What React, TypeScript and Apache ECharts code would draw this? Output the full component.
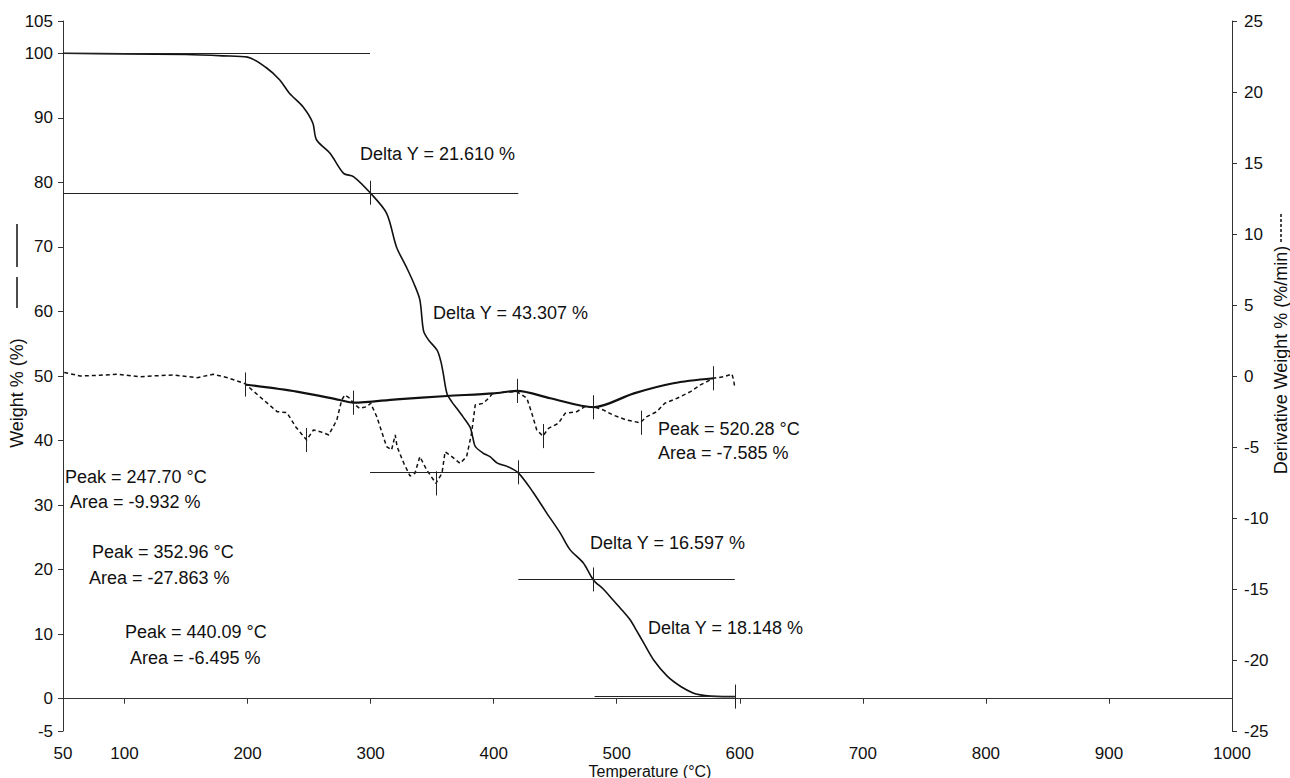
import React, { useEffect, useRef } from "react";
import * as echarts from "echarts";

// ---- axis ticks ----
const temperatureTicks = [50, 100, 200, 300, 400, 500, 600, 700, 800, 900, 1000];
const weightAxisTicks = [-5, 0, 10, 20, 30, 40, 50, 60, 70, 80, 90, 100, 105];

// ---- weight % curve (left axis) ----
const weightT = [50, 100, 150, 180, 200, 215, 226, 234, 245, 253, 256, 267, 278, 286, 300, 313, 321, 329, 335, 340, 343, 347, 354, 357, 359, 362, 366, 370, 375, 381, 383, 385, 391, 397, 403, 411, 420, 432, 443, 454, 462, 473, 481, 489, 497, 504, 511, 516, 522, 530, 541, 552, 562, 568, 576, 586, 596];
const weightPct = [100.0, 99.9, 99.8, 99.6, 99.4, 97.8, 95.9, 93.8, 91.7, 89.2, 86.6, 84.5, 81.4, 80.9, 78.3, 75.2, 70.0, 66.9, 64.4, 61.8, 57.0, 55.6, 54.0, 52.3, 50.4, 47.3, 46.0, 45.0, 43.7, 42.0, 40.5, 39.1, 38.1, 37.5, 36.5, 36.0, 35.0, 32.0, 28.8, 25.7, 23.1, 21.0, 18.4, 17.0, 15.3, 13.8, 12.2, 10.6, 8.6, 6.0, 3.5, 1.9, 0.9, 0.6, 0.4, 0.33, 0.33];

// ---- derivative weight curve (right axis) ----
const derivT = [51, 64, 80, 94, 113, 126, 140, 159, 172, 183, 190, 198, 210, 224, 232, 239, 248, 253.5, 259, 266, 272.5, 276.5, 279, 283, 286, 291, 297, 300, 305, 313, 317, 320, 321.5, 327, 332, 336, 340, 345.6, 353, 358, 360.5, 366, 372.7, 378, 382, 385, 391.6, 397, 399, 408, 418.8, 427, 431, 435, 440, 444.5, 452.6, 458, 467.6, 474, 481, 489, 497, 508, 519, 524.5, 532.6, 539, 549, 560, 568, 578.6, 587, 593.6, 595, 596];
const derivVal = [0.25, 0.0, 0.05, 0.12, -0.05, 0.02, 0.07, -0.12, 0.12, -0.1, -0.3, -0.55, -1.46, -2.51, -2.58, -3.57, -4.51, -3.8, -3.92, -4.15, -3.1, -1.69, -1.34, -1.57, -1.92, -2.28, -2.16, -1.92, -2.87, -4.98, -5.21, -4.15, -4.98, -6.15, -7.04, -6.85, -5.68, -6.62, -7.56, -6.85, -5.33, -5.68, -6.15, -5.68, -4.04, -2.04, -1.92, -1.46, -1.22, -1.15, -1.1, -1.57, -2.63, -3.8, -4.23, -3.69, -3.33, -2.63, -2.51, -2.16, -2.16, -2.39, -2.75, -3.1, -3.29, -2.86, -2.51, -1.92, -1.57, -1.1, -0.63, -0.16, -0.05, 0.14, -0.28, -0.87];

// ---- integration baseline under the derivative peaks ----
const baselineT = [198, 240, 275, 286, 321, 362, 400, 419, 446, 481, 514, 546, 578.6];
const baselineVal = [-0.6, -1.1, -1.69, -1.88, -1.64, -1.41, -1.22, -1.05, -1.57, -2.2, -1.22, -0.51, -0.16];

// ---- step (Delta Y) levels ----
const stepLevel = [100, 78.39, 35.08, 18.48, 0.33];
const stepFrom = [50, 50, 299.5, 420, 482];
const stepTo = [299.5, 420, 482, 596, 596];
const stepMarkT = [300, 420, 481, 596];
const stepMarkW = [78.39, 35.08, 18.48, 0.33];

// ---- baseline limits and peaks ----
const limitT = [198, 286, 419, 481, 578.6];
const limitD = [-0.6, -1.88, -1.05, -2.2, -0.16];
const peakT = [247.7, 352.96, 440.09, 520.28];
const peakD = [-4.51, -7.56, -4.23, -3.29];

// ---- annotation texts ----
const annotationTexts = [
  "Delta Y = 21.610 %",
  "Delta Y = 43.307 %",
  "Delta Y = 16.597 %",
  "Delta Y = 18.148 %",
  "Peak = 247.70 °C",
  "Area = -9.932 %",
  "Peak = 352.96 °C",
  "Area = -27.863 %",
  "Peak = 440.09 °C",
  "Area = -6.495 %",
  "Peak = 520.28 °C",
  "Area = -7.585 %",
];
// layout (pixels) for annotation texts: left x, middle y
const annotationLayout = [
  [360, 154],
  [433, 313],
  [590, 543],
  [648, 628],
  [65, 477],
  [70, 502],
  [92, 552],
  [89, 578],
  [125, 632],
  [130, 658],
  [658, 429],
  [658, 453],
];

const FONT = '"Liberation Sans", Arial, Helvetica, sans-serif';
const INK = "#111";

export default function App() {
  const ref = useRef<HTMLDivElement>(null);

  useEffect(() => {
    if (!ref.current) return;
    const chart = echarts.init(ref.current, undefined, { renderer: "svg" });

    const wTickHalf = 1.86; // ~12px on weight axis
    const dTickHalf = 0.85; // ~12px on derivative axis

    const weightMarks: any[] = [];
    stepLevel.forEach((lv, i) => {
      weightMarks.push([{ coord: [stepFrom[i], lv] }, { coord: [stepTo[i], lv] }]);
    });
    stepMarkT.forEach((t, i) => {
      weightMarks.push([
        { coord: [t, stepMarkW[i] - wTickHalf] },
        { coord: [t, stepMarkW[i] + wTickHalf] },
      ]);
    });

    const derivMarks: any[] = [];
    limitT.forEach((t, i) => {
      derivMarks.push([
        { coord: [t, limitD[i] - dTickHalf] },
        { coord: [t, limitD[i] + dTickHalf] },
      ]);
    });
    peakT.forEach((t, i) => {
      derivMarks.push([
        { coord: [t, peakD[i] - dTickHalf] },
        { coord: [t, peakD[i] + dTickHalf] },
      ]);
    });

    const axisLineStyle = { color: "#333", width: 1 };
    const labelStyle = { color: INK, fontSize: 17, fontFamily: FONT };

    const graphics: any[] = [
      {
        type: "text",
        x: 17,
        y: 393,
        rotation: Math.PI / 2,
        style: { text: "Weight % (%)", font: `18px ${FONT}`, fill: INK, align: "center", verticalAlign: "middle" },
      },
      { type: "line", shape: { x1: 17, y1: 277, x2: 17, y2: 308 }, style: { stroke: INK, lineWidth: 1.5 } },
      { type: "line", shape: { x1: 17, y1: 224, x2: 17, y2: 267 }, style: { stroke: INK, lineWidth: 1.5 } },
      {
        type: "text",
        x: 1281,
        y: 360,
        rotation: Math.PI / 2,
        style: { text: "Derivative Weight % (%/min)", font: `18px ${FONT}`, fill: INK, align: "center", verticalAlign: "middle" },
      },
      { type: "line", shape: { x1: 1281, y1: 214, x2: 1281, y2: 242 }, style: { stroke: INK, lineWidth: 1.5, lineDash: [3, 2] } },
      {
        type: "text",
        x: 650,
        y: 771,
        style: { text: "Temperature (°C)", font: `16px ${FONT}`, fill: INK, align: "center", verticalAlign: "middle" },
      },
    ];
    annotationTexts.forEach((t, i) => {
      graphics.push({
        type: "text",
        x: annotationLayout[i][0],
        y: annotationLayout[i][1],
        style: { text: t, font: `18px ${FONT}`, fill: INK, align: "left", verticalAlign: "middle" },
      });
    });

    chart.setOption({
      animation: false,
      backgroundColor: "#fff",
      grid: { left: 63, right: 58, top: 21, bottom: 47, containLabel: false, outerBoundsMode: "none" },
      xAxis: {
        type: "value",
        min: 50,
        max: 1000,
        axisLine: { show: true, lineStyle: axisLineStyle },
        axisTick: { show: true, customValues: temperatureTicks, length: 5, lineStyle: axisLineStyle },
        axisLabel: {
          customValues: temperatureTicks,
          margin: 14,
          formatter: (v: number) => String(v),
          ...labelStyle,
        },
        splitLine: { show: false },
      },
      yAxis: [
        {
          type: "value",
          min: -5,
          max: 105,
          position: "left",
          axisLine: { show: true, lineStyle: axisLineStyle },
          axisTick: { show: true, customValues: weightAxisTicks, length: 5, lineStyle: axisLineStyle },
          axisLabel: { customValues: weightAxisTicks, margin: 10, ...labelStyle },
          splitLine: { show: false },
        },
        {
          type: "value",
          min: -25,
          max: 25,
          interval: 5,
          position: "right",
          axisLine: { show: true, lineStyle: axisLineStyle },
          axisTick: { show: true, length: 5, lineStyle: axisLineStyle },
          axisLabel: { margin: 12, ...labelStyle },
          splitLine: { show: false },
        },
      ],
      series: [
        {
          name: "Weight %",
          type: "line",
          yAxisIndex: 0,
          showSymbol: false,
          symbol: "none",
          smooth: 0.3,
          data: weightT.map((t, i) => [t, weightPct[i]]),
          lineStyle: { color: INK, width: 1.6 },
          markLine: {
            silent: true,
            symbol: ["none", "none"],
            label: { show: false },
            lineStyle: { color: "#222", width: 1, type: "solid" },
            data: weightMarks,
          },
        },
        {
          name: "Derivative Weight %",
          type: "line",
          yAxisIndex: 1,
          showSymbol: false,
          symbol: "none",
          data: derivT.map((t, i) => [t, derivVal[i]]),
          lineStyle: { color: INK, width: 1.5, type: [4, 3] },
          markLine: {
            silent: true,
            symbol: ["none", "none"],
            label: { show: false },
            lineStyle: { color: "#222", width: 1, type: "solid" },
            data: derivMarks,
          },
        },
        {
          name: "Baseline",
          type: "line",
          yAxisIndex: 1,
          showSymbol: false,
          symbol: "none",
          smooth: 0.3,
          data: baselineT.map((t, i) => [t, baselineVal[i]]),
          lineStyle: { color: INK, width: 2.2 },
        },
      ],
      graphic: graphics,
    });

    return () => chart.dispose();
  }, []);

  return (
    <div
      ref={ref}
      style={{ position: "fixed", left: 0, top: 0, width: 1290, height: 778, background: "#fff" }}
    />
  );
}
